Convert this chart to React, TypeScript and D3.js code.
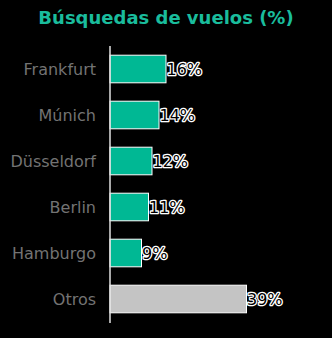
import React from "react";
import * as d3 from "d3";

const categories = ["Frankfurt", "Múnich", "Düsseldorf", "Berlin", "Hamburgo", "Otros"];
const values = [16, 14, 12, 11, 9, 39];
const colors = ["#00b894", "#00b894", "#00b894", "#00b894", "#00b894", "#c4c4c4"];
const title = "Búsquedas de vuelos (%)";

export default function App() {
  const W = 332, H = 338;
  const x0 = 110;
  const x = d3.scaleLinear().domain([0, 10]).range([x0, x0 + 35]);
  const y = d3.scaleBand<string>().domain(categories).range([46, 322]).paddingInner(0.4).paddingOuter(0.2);
  const font = "DejaVu Sans, sans-serif";
  return (
    <svg width={W} height={H} style={{ position: "absolute", left: 0, top: 0, background: "#000" }}>
      <rect x={0} y={0} width={W} height={H} fill="#000" />
      <text x={166} y={24} textAnchor="middle" fontFamily={font} fontWeight="bold" fontSize={18} fill="#1abc9c">
        {title}
      </text>
      {categories.map((c, i) => {
        const yy = y(c)!;
        const bw = y.bandwidth();
        return (
          <g key={c}>
            <rect x={x(0)} y={yy} width={x(values[i]) - x(0)} height={bw} fill={colors[i]} stroke="#fff" strokeWidth={1} />
            <text x={96} y={yy + bw / 2} dy="0.35em" textAnchor="end" fontFamily={font} fontSize={16} fill="#737373">
              {c}
            </text>
            <text x={x(values[i]) + 0.5} y={yy + bw / 2} dy="0.35em" fontFamily={font} fontSize={16} fill="#000"
              stroke="#fff" strokeWidth={2.6} paintOrder="stroke" strokeLinejoin="round">
              {values[i]}%
            </text>
          </g>
        );
      })}
      <line x1={x0} x2={x0} y1={46} y2={323} stroke="#e0e0e0" strokeWidth={1.5} />
    </svg>
  );
}
